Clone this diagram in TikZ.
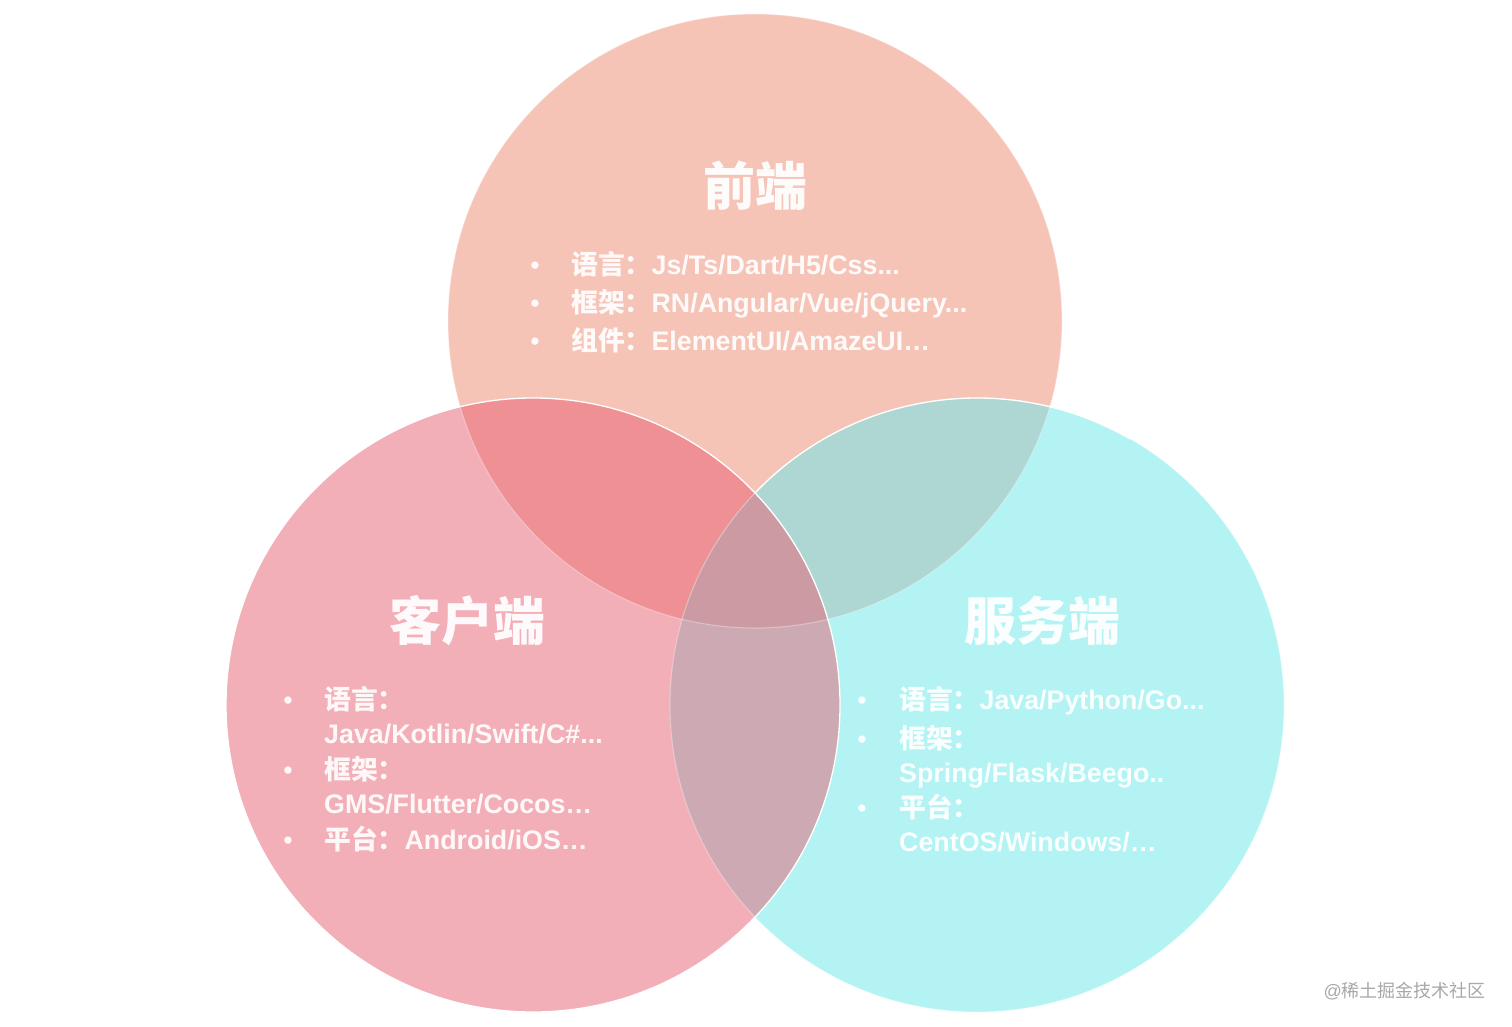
\documentclass[tikz,border=0pt]{standalone}
\usepackage{fontspec}
\setmainfont{Liberation Sans}
\newfontfamily\cjk{Noto Sans CJK SC}
\newcommand\zh[1]{{\cjk #1}}
\definecolor{topc}{HTML}{F6C3B7}
\definecolor{leftc}{HTML}{F3AFB8}
\definecolor{rightc}{HTML}{B3F3F3}
\definecolor{tlc}{HTML}{EF9095}
\definecolor{trc}{HTML}{AED7D3}
\definecolor{lrc}{HTML}{CCA9B3}
\definecolor{triplec}{HTML}{CC9AA3}
\definecolor{markc}{HTML}{A8A8A8}
\tikzset{
  txt/.style={anchor=base west, inner sep=0pt, text=white, text opacity=0.92,
    font=\fontsize{26.8}{30}\selectfont\bfseries},
  bul/.style={anchor=base, inner sep=0pt, text=white, text opacity=0.92,
    font=\fontsize{26.8}{30}\selectfont},
  ttl/.style={anchor=base, inner sep=0pt, text=white, text opacity=0.95,
    font=\fontsize{52}{60}\selectfont\bfseries},
  edge/.style={draw=white, line width=1.3pt},
  faint/.style={draw=white, draw opacity=0.3, line width=1.2pt}
}
\begin{document}
\begin{tikzpicture}[x=1pt,y=-1pt]
\useasboundingbox (0,0) rectangle (1512,1027);
\fill[white] (0,0) rectangle (1512,1027);
\coordinate (T) at (755,321);
\coordinate (L) at (533,705);
\coordinate (R) at (977,705);
% solo areas
\fill[topc] (T) circle[radius=307];
\fill[rightc] (R) circle[radius=307];
\fill[leftc] (L) circle[radius=307];
% left-right overlap
\begin{scope}
  \clip (L) circle[radius=307];
  \fill[lrc] (R) circle[radius=307];
\end{scope}
% overlaps with top
\begin{scope}
  \clip (T) circle[radius=307];
  \fill[tlc] (L) circle[radius=307];
  \fill[trc] (R) circle[radius=307];
  \clip (L) circle[radius=307];
  \fill[triplec] (R) circle[radius=307];
\end{scope}
% outlines
\draw[faint] (T) circle[radius=307];
\draw[faint] (R) circle[radius=307];
\draw[edge] (L) circle[radius=307];
\draw[edge] (R) ++(-136.3:307) arc[start angle=-136.3, end angle=-60, radius=307];
% top circle texts
\node[ttl] (t0) at (755,205) {\zh{前端}};
\node[bul] (tb1) at (535,274.5) {•};
\node[bul] (tb2) at (535,312.5) {•};
\node[bul] (tb3) at (535,350.5) {•};
\node[txt] (t1) at (571,274.5) {\zh{语言：}Js/Ts/Dart/H5/Css...};
\node[txt] (t2) at (571,312.5) {\zh{框架：}RN/Angular/Vue/jQuery...};
\node[txt] (t3) at (571,350.5) {\zh{组件：}ElementUI/AmazeUI…};
% left circle texts
\node[ttl] (l0) at (467,640) {\zh{客户端}};
\node[bul] (lb1) at (288,709.5) {•};
\node[bul] (lb2) at (288,779.5) {•};
\node[bul] (lb3) at (288,849.5) {•};
\node[txt] (l1) at (324,709.5) {\zh{语言：}};
\node[txt] (l2) at (324,743.5) {Java/Kotlin/Swift/C\#...};
\node[txt] (l3) at (324,779.5) {\zh{框架：}};
\node[txt] (l4) at (324,813.5) {GMS/Flutter/Cocos…};
\node[txt] (l5) at (324,849.5) {\zh{平台：}Android/iOS…};
% right circle texts
\node[ttl] (r0) at (1042,640) {\zh{服务端}};
\node[bul] (rb1) at (862,709.5) {•};
\node[bul] (rb2) at (862,748.5) {•};
\node[bul] (rb3) at (862,817.5) {•};
\node[txt] (r1) at (899,709.5) {\zh{语言：}Java/Python/Go...};
\node[txt] (r2) at (899,748.5) {\zh{框架：}};
\node[txt] (r3) at (899,782.5) {Spring/Flask/Beego..};
\node[txt] (r4) at (899,817.5) {\zh{平台：}};
\node[txt] (r5) at (899,851.5) {CentOS/Windows/…};
% watermark
\node[anchor=base east, inner sep=0pt, text=markc, font=\fontsize{18}{20}\selectfont] (wm) at (1486,997) {@\zh{稀土掘金技术社区}};
\end{tikzpicture}
\end{document}
